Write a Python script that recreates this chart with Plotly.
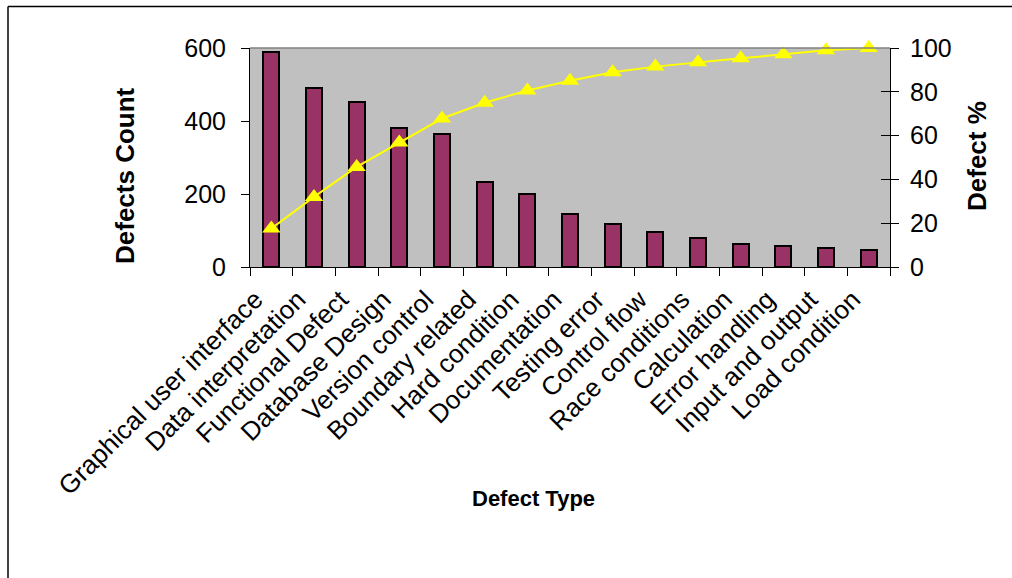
import plotly.graph_objects as go

categories = ["Graphical user interface", "Data interpretation", "Functional Defect",
              "Database Design", "Version control", "Boundary related", "Hard condition",
              "Documentation", "Testing error", "Control flow", "Race conditions",
              "Calculation", "Error handling", "Input and output", "Load condition"]
defect_counts = [588, 490, 453, 381, 364, 233, 200, 146, 118, 96, 79, 63, 57, 52, 47]
cumulative_pct = [17.6, 32.0, 45.7, 56.8, 67.8, 75.0, 80.6, 85.0, 88.9, 91.5, 93.5, 95.3, 97.1, 99.0, 100.0]

FONT = "Liberation Sans, Arial, sans-serif"
W, H = 1012, 578
L, R, T, B = 250, 890, 48, 267  # plot-area pixel box
TICK_SIZE = 25
XLABEL_SIZE = 26
VTITLE_SIZE = 26
HTITLE_SIZE = 22

def px_x(px):
    return (px - L) / (R - L)

def px_y(py):
    return (B - py) / (B - T)

fig = go.Figure()
fig.add_trace(go.Bar(
    x=categories, y=defect_counts, width=0.38,
    marker=dict(color="#993366", line=dict(color="black", width=2)),
    yaxis="y", showlegend=False,
))
fig.add_trace(go.Scatter(
    x=categories, y=cumulative_pct, mode="lines+markers", cliponaxis=False,
    line=dict(color="#FFFF00", width=2),
    marker=dict(symbol="triangle-up", size=16, color="#FFFF00"),
    yaxis="y2", showlegend=False,
))
# invisible trace to carry inside ticks on the right axis
fig.add_trace(go.Scatter(x=[categories[0]], y=[0], mode="markers", marker=dict(opacity=0),
                         yaxis="y3", showlegend=False, hoverinfo="skip"))

fig.update_layout(
    width=W, height=H,
    margin=dict(l=L, r=W - R, t=T, b=H - B),
    paper_bgcolor="white", plot_bgcolor="#C0C0C0",
    font=dict(family=FONT, size=TICK_SIZE, color="black"),
    bargap=0,
    xaxis=dict(
        range=[-0.5, len(categories) - 0.5], tickangle=-45, tickson="boundaries",
        ticks="outside", ticklen=8, tickcolor="black", tickwidth=1,
        showline=True, linecolor="black", linewidth=1, showgrid=False,
        tickfont=dict(family=FONT, size=XLABEL_SIZE), ticklabelstandoff=6,
        ticklabelshift=-16,
    ),
    yaxis=dict(
        range=[0, 600], dtick=200, ticks="outside", ticklen=8, tickcolor="black",
        showline=True, linecolor="black", linewidth=1, showgrid=False, zeroline=False,
        tickfont=dict(family=FONT, size=TICK_SIZE), ticklabelstandoff=10,
    ),
    yaxis2=dict(
        range=[0, 100], dtick=20, overlaying="y", side="right", anchor="x",
        ticks="outside", ticklen=8, tickcolor="black",
        showline=True, linecolor="black", linewidth=1, showgrid=False, zeroline=False,
        tickfont=dict(family=FONT, size=TICK_SIZE), ticklabelstandoff=6,
    ),
    yaxis3=dict(
        range=[0, 100], dtick=20, overlaying="y", side="right", anchor="x",
        ticks="inside", ticklen=9, tickcolor="black", showticklabels=False,
        showline=False, showgrid=False, zeroline=False,
    ),
    annotations=[
        dict(text="<b>Defects Count</b>", textangle=-90, x=px_x(125), y=px_y(176),
             xanchor="center", yanchor="middle",
             xref="paper", yref="paper", showarrow=False, font=dict(family=FONT, size=VTITLE_SIZE)),
        dict(text="<b>Defect %</b>", textangle=-90, x=px_x(977), y=px_y(156),
             xanchor="center", yanchor="middle",
             xref="paper", yref="paper", showarrow=False, font=dict(family=FONT, size=VTITLE_SIZE)),
        dict(text="<b>Defect Type</b>", x=px_x(533), y=px_y(498),
             xanchor="center", yanchor="middle",
             xref="paper", yref="paper", showarrow=False, font=dict(family=FONT, size=HTITLE_SIZE)),
    ],
    shapes=[
        dict(type="line", xref="paper", yref="paper", x0=0, x1=1, y0=1, y1=1,
             line=dict(color="#808080", width=1.5)),
        dict(type="line", xref="paper", yref="paper", x0=px_x(8), x1=px_x(1012),
             y0=px_y(6.5), y1=px_y(6.5), line=dict(color="black", width=1.5)),
        dict(type="line", xref="paper", yref="paper", x0=px_x(8), x1=px_x(8),
             y0=px_y(6.5), y1=px_y(578), line=dict(color="black", width=1.5)),
    ],
)

fig.write_html("out.html", config={"displayModeBar": False},
               post_script="document.body.style.margin='0';")
